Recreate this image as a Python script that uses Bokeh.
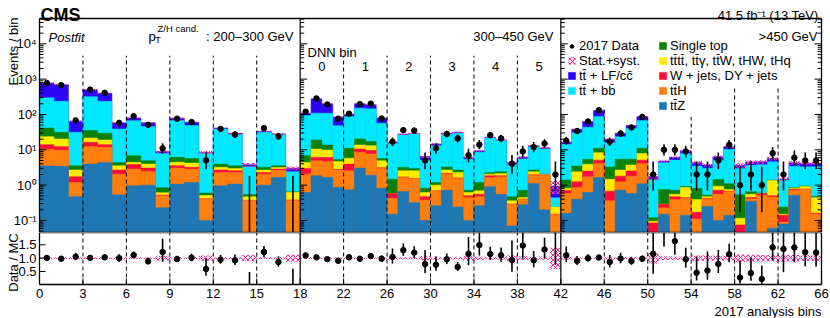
import numpy as np
from bokeh.plotting import figure
from bokeh.layouts import column
from bokeh.models import Label, Legend, Range1d
from bokeh.embed import file_html
from bokeh.resources import INLINE

FONT = "Liberation Sans"

# ---------------- data (66 analysis bins) ----------------
panel_nbins = [18, 24, 24]          # bins per pT(Z/H) panel
panel_labels = [": 200\u2013300 GeV", "300\u2013450 GeV", ">450 GeV"]
dnn_labels = ["0", "1", "2", "3", "4", "5"]
tick_labels = ["0", "3", "6", "9", "12", "15", "18", "22", "26", "30", "34",
               "38", "42", "46", "50", "54", "58", "62", "66"]

ttZ = [3.5, 3.4, 0.47, 3.95, 4.4, 0.53, 0.96, 1.0, 0.23, 1.07, 1.19, 0.1, 0.96, 1.07, 0.03, 1.0, 1.65, 0.03,
       0.62, 1.84, 1.65, 0.86, 0.74, 3.04, 1.92, 0.82, 0.15, 0.66, 0.32, 0.1, 0.26, 0.72, 0.24, 0.1, 0.26, 0.9, 0.55, 0.07, 0.28, 1.12, 0.2, 0.02,
       0.16, 0.4, 0.62, 1.65, 0.04, 0.72, 0.58, 1.1, 0.005, 0.15, 0.03, 0.14, 0.04, 0.25, 0.1, 0.14, 0.005, 0.35, 0.02, 0.06, 0.08, 0.52, 0.02, 0.02]
ttH = [6.9, 6.4, 0.72, 8.5, 7.4, 1.52, 1.9, 1.45, 0.27, 1.97, 1.66, 0.3, 1.33, 1.22, 0.34, 1.05, 1.0, 0.34,
       1.43, 3.06, 3.05, 1.81, 1.8, 5.5, 5.7, 2.2, 0.27, 0.99, 1.2, 0.28, 0.43, 1.33, 1.31, 0.35, 0.21, 0.75, 1.17, 0.22, 0.12, 0.8, 1.72, 0.13,
       0.42, 0.46, 1.1, 2.45, 0.32, 0.52, 1.22, 3.0, 0.01, 0.08, 0.36, 0.28, 0.07, 0.15, 0.45, 0.51, 0.02, 0.06, 0.5, 0.4, 0.01, 0.2, 0.75, 0.13]
vjets = [3.6, 2.4, 0.53, 3.8, 2.2, 0.62, 0.95, 0.59, 0.02, 0.5, 0.35, 0.01, 0.38, 0.26, 0.0, 0.24, 0.2, 0.01,
         0.92, 1.2, 1.4, 0.1, 1.4, 2.0, 1.9, 0.1, 0.16, 0.05, 0.03, 0.09, 0.0, 0.1, 0.05, 0.05, 0.08, 0.19, 0.12, 0.0, 0.0, 0.05, 0.02, 0.0,
         0.13, 0.38, 0.78, 1.0, 0.31, 0.56, 0.7, 1.0, 0.07, 0.06, 0.08, 0.02, 0.06, 0.02, 0.17, 0.02, 0.05, 0.04, 0.05, 0.04, 0.05, 0.05, 0.0, 0.01]
rare = [9.5, 8.1, 0.95, 5.3, 5.0, 0.87, 0.6, 0.91, 0.09, 0.9, 1.0, 0.1, 0.53, 0.42, 0.1, 0.38, 0.3, 0.25,
        1.43, 4.4, 3.7, 1.9, 1.85, 3.2, 3.6, 1.76, 0.0, 0.85, 1.0, 0.15, 0.31, 0.52, 0.69, 0.12, 0.14, 0.21, 0.3, 0.07, 0.05, 0.43, 0.05, 0.09,
        0.11, 1.15, 1.4, 3.2, 0.8, 0.87, 1.2, 2.8, 0.01, 0.0, 0.08, 0.42, 0.22, 0.05, 0.21, 0.08, 0.04, 0.1, 0.0, 0.85, 0.01, 0.05, 0.15, 0.28]
single_top = [18, 11, 0.87, 13.4, 10.3, 0.86, 2.4, 0.95, 0.24, 1.7, 1.5, 0.09, 0.75, 0.57, 0.07, 0.53, 0.4, 0.02,
              2.4, 8.5, 3.9, 0.65, 5.2, 6.6, 4.0, 0.8, 0.9, 0.65, 0.42, 0.2, 0.19, 0.6, 0.38, 0.1, 0.5, 0.24, 0.26, 0.11, 0.27, 0.27, 0.05, 0.0,
              0.57, 1.07, 1.5, 2.7, 1.8, 2.73, 1.7, 3.1, 0.025, 0.46, 0.17, 0.05, 0.41, 0.05, 0.52, 0.35, 0.42, 0.1, 0.02, 0.05, 0.09, 0.02, 0.03, 0.04]
ttbb = [254, 206, 27.8, 285, 208, 34.6, 60, 41, 7.0, 61, 42.8, 7.5, 35, 23.5, 2.75, 28, 23.5, 1.75,
        86, 90, 95, 43, 76, 130, 127, 51, 13.7, 23, 25, 4.3, 11.9, 23.7, 26.6, 4.7, 7.3, 19.3, 15.8, 3.33, 4.8, 9.6, 8.5, 0.2,
        12.9, 27.1, 38.2, 76, 12.6, 18.2, 35.4, 56, 1.3, 3.55, 4.4, 7.0, 2.7, 2.5, 3.65, 9.2, 2.4, 3.0, 3.2, 3.2, 1.15, 2.6, 2.35, 2.85]
ttlf = [478, 453, 33.2, 180, 163, 19, 13, 12, 1.1, 11.5, 11.5, 0.3, 2.5, 2.3, 0.5, 2.2, 1.0, 0.6,
        16, 168, 91, 36, 15, 50, 43, 22, 1.1, 1.5, 1.0, 1.3, 1.5, 2.3, 2.0, 0.6, 0.9, 1.0, 0.8, 0.5, 0.6, 0.8, 0.8, 0.5,
        2.0, 7.4, 19.4, 42, 4.0, 5.8, 7.6, 20, 0.3, 0.5, 1.0, 1.5, 0.9, 0.7, 1.3, 1.9, 0.7, 0.9, 0.8, 1.1, 0.1, 0.85, 0.8, 0.8]

data = [780, 676, 68, 505, 412, 58, 89, 51, 11, 76, 61, 5, 39, 27, 0, 41, 24, 0,
        120, 285, 192, 76, 105, 196, 202, 77, 17, 36, 35, 5, 11, 28, 21, 7, 14, 26, 21, 4, 9, 12, 15, 2,
        18, 34, 63, 132, 17, 29, 43, 85, 2, 10, 10, 9, 2, 2, 5, 14, 1, 2, 1, 8, 2, 6, 5, 5]
data_err_lo = [27.9, 26.0, 8.24, 22.5, 20.3, 7.60, 9.43, 7.13, 3.27, 8.71, 7.80, 2.16, 6.22, 5.17, 0, 6.38, 4.87, 0,
               10.95, 16.88, 13.86, 8.71, 10.25, 14.0, 14.21, 8.77, 4.08, 5.98, 5.89, 2.16, 3.27, 5.27, 4.55, 2.58, 3.70, 5.07, 4.55, 1.91, 2.95, 3.42, 3.83, 1.29,
               4.20, 5.81, 7.93, 11.49, 4.08, 5.36, 6.54, 9.21, 1.29, 3.11, 3.11, 2.95, 1.29, 1.29, 2.16, 3.70, 0.83, 1.29, 0.83, 2.77, 1.29, 2.38, 2.16, 2.16]
data_err_hi = [28.9, 27.0, 9.31, 23.5, 21.3, 8.68, 10.48, 8.21, 4.42, 9.77, 8.87, 3.38, 7.31, 6.27, 1.84, 7.46, 5.97, 1.84,
               12.0, 17.88, 14.87, 9.77, 11.28, 15.0, 15.22, 9.82, 5.20, 7.06, 6.97, 3.38, 4.42, 6.37, 5.65, 3.77, 4.83, 6.17, 5.65, 3.16, 4.11, 4.56, 4.96, 2.64,
               5.32, 6.90, 9.00, 12.54, 5.20, 6.46, 7.62, 10.27, 2.64, 4.27, 4.27, 4.11, 2.64, 2.64, 3.38, 4.83, 2.30, 2.64, 2.30, 3.95, 2.64, 3.58, 3.38, 3.38]
# relative stat.+syst. uncertainty of the total prediction
unc_rel = [0.03, 0.03, 0.04, 0.03, 0.03, 0.04, 0.03, 0.035, 0.09, 0.03, 0.035, 0.10, 0.04, 0.04, 0.12, 0.04, 0.045, 0.13,
           0.03, 0.03, 0.03, 0.035, 0.03, 0.03, 0.03, 0.035, 0.05, 0.04, 0.04, 0.08, 0.05, 0.04, 0.045, 0.09, 0.06, 0.045, 0.05, 0.10, 0.07, 0.05, 0.06, 0.40,
           0.05, 0.04, 0.035, 0.035, 0.05, 0.04, 0.035, 0.035, 0.20, 0.07, 0.06, 0.06, 0.10, 0.10, 0.09, 0.08, 0.14, 0.13, 0.12, 0.12, 0.13, 0.12, 0.10, 0.10]

names = ["tt\u0304Z", "tt\u0304H", "W + jets, DY + jets", "tt\u0304tt\u0304, tt\u0304\u03b3, tt\u0304W, tHW, tHq",
         "Single top", "tt\u0304 + bb\u0304", "tt\u0304 + LF/cc\u0304"]
colors = ["#1f77b4", "#ff7f0e", "#fb0d3a", "#ffea00", "#0a820a", "#00e8ff", "#2d05f5"]
PINK = "#ee2f98"
main_yticks = [0.1, 1, 10, 100, 1000, 10000]
main_ytick_labels = ["10\u207b\u00b9", "10\u2070", "10\u00b9", "10\u00b2", "10\u00b3", "10\u2074"]
ratio_yticks = [0.5, 1.0, 1.5]
ratio_ytick_labels = ["0.5", "1.0", "1.5"]

# ---------------- geometry ----------------
# display x: each pT panel spans 72 units; plot box is x 39..821 px
edges = [0.0]
for nb in panel_nbins:
    w = 72.0 / nb
    for _ in range(nb):
        edges.append(edges[-1] + w)
edges = np.array(edges)
left, right = edges[:-1], edges[1:]
center = 0.5 * (left + right)

comps = [np.array(c, float) for c in (ttZ, ttH, vjets, rare, single_top, ttbb, ttlf)]
cum = np.cumsum(comps, axis=0)
total = cum[-1]
unc = np.array(unc_rel)
d = np.array(data, float)
lo = np.array(data_err_lo)
hi = np.array(data_err_hi)

W = 830
BOX_L, BOX_R = 39, 821
DPX = 216.0 / (BOX_R - BOX_L)            # display units per pixel
XR = Range1d(-BOX_L * DPX, 216 + (W - BOX_R) * DPX)

# main panel: canvas 0..232 px, plot box rows 18..232
H_MAIN, BOX_T = 232, 18
YMIN, YMAX = 0.0457, 5.2e4
PPD = (H_MAIN - BOX_T) / (np.log10(YMAX) - np.log10(YMIN))   # px per decade
YTOP = 10 ** (np.log10(YMAX) + BOX_T / PPD)

# ratio panel: canvas 0..86 px, plot box rows 0..52
H_RATIO, RBOX_H = 86, 52
RMIN, RMAX = 0.013, 1.96
RPPU = RBOX_H / (RMAX - RMIN)
RBOT = RMIN - (H_RATIO - RBOX_H) / RPPU


def add_text(fig, text, x, y, size="13px", align="left", style="normal", xu="screen", yu="screen",
             angle=0.0, baseline="alphabetic"):
    fig.add_layout(Label(x=x, y=y, x_units=xu, y_units=yu, text=text, text_font=FONT,
                         text_font_size=size, text_align=align, text_font_style=style,
                         text_baseline=baseline, text_color="black", angle=angle))


# ======================= main panel =======================
p = figure(width=W, height=H_MAIN, x_range=XR, y_range=Range1d(YMIN, YTOP), y_axis_type="log",
           output_backend="svg", toolbar_location=None, min_border=0)
p.axis.visible = False
p.grid.visible = False
p.outline_line_color = None


def msy(yrow):
    return H_MAIN - yrow


rends = {}
for i in reversed(range(len(comps))):
    rends[i] = p.quad(left=left, right=right, bottom=YMIN, top=cum[i],
                      fill_color=colors[i], line_color=colors[i], line_width=0.5)

r_band = p.quad(left=left, right=right, bottom=total * (1 - unc), top=total * (1 + unc),
                fill_color=PINK, fill_alpha=0.12, line_color=None, hatch_pattern="x", hatch_color=PINK,
                hatch_scale=5, hatch_weight=1)

# DNN-bin separators and panel borders
sep_x = [72 * k + 12 * j for k in range(3) for j in range(1, 6)]
sep_top = [4600] * 10 + [163, 80, 85, 610, 610]
p.segment(x0=sep_x, y0=YMIN, x1=sep_x, y1=sep_top, line_color="black", line_dash="4 3", line_width=1)
p.segment(x0=[72, 144], y0=YMIN, x1=[72, 144], y1=YMAX, line_color="black", line_width=1.2)

# plot box
p.segment(x0=[0, 216, 0, 0], y0=[YMIN, YMIN, YMAX, YMIN], x1=[0, 216, 216, 216], y1=[YMAX, YMAX, YMAX, YMIN],
          line_color="black", line_width=1.3)

# y ticks (inward) on the left edge, the panel borders and the right edge
mnr = [m * 10.0 ** e for e in range(-2, 5) for m in range(2, 10) if YMIN < m * 10.0 ** e < YMAX]
for xb, sgn in ((0, 1), (72, 1), (144, 1), (216, -1)):
    p.segment(x0=[xb] * len(main_yticks), y0=main_yticks, x1=[xb + sgn * 7 * DPX] * len(main_yticks),
              y1=main_yticks, line_color="black", line_width=1)
    p.segment(x0=[xb] * len(mnr), y0=mnr, x1=[xb + sgn * 4 * DPX] * len(mnr), y1=mnr,
              line_color="black", line_width=1)
for t, lab in zip(main_yticks, main_ytick_labels):
    add_text(p, lab, 36, t, yu="data", align="right", baseline="middle")

# data
pt_y = np.where(d > 0, d, np.nan)
p.segment(x0=center, y0=np.maximum(d - lo, YMIN), x1=center, y1=d + hi, line_color="black", line_width=1.6)
r_pts = p.scatter(center, pt_y, size=5.5, color="black")
r_vsp = p.vspan(x=[], line_color="black", line_width=1.6)

# texts
add_text(p, "CMS", 40, msy(14), size="18px", style="bold")
add_text(p, "41.5 fb\u207b\u00b9 (13 TeV)", 818, msy(15), align="right")
add_text(p, "Events / bin", 13, msy(51), align="center", angle=np.pi / 2, baseline="middle")
add_text(p, "Postfit", 48, msy(36.5), style="italic")
add_text(p, "p", 148, msy(35.5))
add_text(p, "T", 154.5, msy(38.5), size="9.5px")
add_text(p, "Z/H cand.", 157, msy(27.5), size="9.5px")
add_text(p, panel_labels[0], 293, msy(35.5), align="right")
add_text(p, panel_labels[1], 553, msy(35.5), align="right")
add_text(p, panel_labels[2], 817, msy(35.5), align="right")
add_text(p, "DNN bin", 307, msy(51.5))
for k, lab in enumerate(dnn_labels):
    add_text(p, lab, 72 + 12 * k + 6, msy(65.5), align="center", xu="data")

# legends (row pitch 15 px)
leg_common = dict(label_text_font=FONT, label_text_font_size="13px", background_fill_alpha=0,
                  border_line_color=None, padding=0, margin=0, glyph_width=9, label_standoff=3,
                  label_text_color="black", spacing=0, label_height=15)
row0 = msy(45.5)
leg_d = Legend(items=[("2017 Data", [r_vsp, r_pts])], location=(567, row0 - 7.5),
               glyph_height=14, **leg_common)
leg_l = Legend(items=[("Stat.+syst.", [r_band]), (names[6], [rends[6]]), (names[5], [rends[5]])],
               location=(567, row0 - 52.5), glyph_height=9, **leg_common)
leg_r = Legend(items=[(names[i], [rends[i]]) for i in (4, 3, 2, 1, 0)],
               location=(658, row0 - 67.5), glyph_height=9, **leg_common)
for lg in (leg_d, leg_l, leg_r):
    p.add_layout(lg)

# ======================= ratio panel =======================
q = figure(width=W, height=H_RATIO, x_range=XR, y_range=Range1d(RBOT, RMAX),
           output_backend="svg", toolbar_location=None, min_border=0)
q.axis.visible = False
q.grid.visible = False
q.outline_line_color = None

ratio = d / total
q.quad(left=left, right=right, bottom=np.clip(1 - unc, RMIN, RMAX), top=np.clip(1 + unc, RMIN, RMAX),
       fill_color=PINK, fill_alpha=0.12, line_color=None, hatch_pattern="x", hatch_color=PINK,
       hatch_scale=5, hatch_weight=1)
q.segment(x0=sep_x, y0=RMIN, x1=sep_x, y1=RMAX, line_color="black", line_dash="4 3", line_width=1)
q.segment(x0=[72, 144], y0=RMIN, x1=[72, 144], y1=RMAX, line_color="black", line_width=1.2)
q.segment(x0=[0, 216, 0, 0], y0=[RMIN, RMIN, RMAX, RMIN], x1=[0, 216, 216, 216], y1=[RMAX, RMAX, RMAX, RMIN],
          line_color="black", line_width=1.3)

r_lo = np.clip(ratio - lo / total, RMIN, RMAX)
r_hi = np.clip(ratio + hi / total, RMIN, RMAX)
q.segment(x0=center, y0=r_lo, x1=center, y1=r_hi, line_color="black", line_width=1.6)
q.scatter(center, np.where((d > 0) & (ratio < RMAX), ratio, np.nan), size=5.5, color="black")

# ratio y ticks + labels
q.segment(x0=[0] * 3, y0=ratio_yticks, x1=[6 * DPX] * 3, y1=ratio_yticks, line_color="black", line_width=1)
for t, lab in zip(ratio_yticks, ratio_ytick_labels):
    add_text(q, lab, 36, t, yu="data", align="right", baseline="middle")
# x ticks + labels
xt = list(range(0, 217, 12))
q.segment(x0=xt, y0=RMIN, x1=xt, y1=RMIN + 6 / RPPU, line_color="black", line_width=1)
for t, lab in zip(xt, tick_labels):
    add_text(q, lab, t, H_RATIO - (288 - 232), xu="data", align="center", baseline="top")

add_text(q, "Data / MC", 13, H_RATIO - (262 - 232), align="center", angle=np.pi / 2, baseline="middle")
add_text(q, "2017 analysis bins", 821, H_RATIO - (311 - 232), align="right")

layout = column(p, q, spacing=0)
open("out.html", "w").write(file_html(layout, INLINE))
